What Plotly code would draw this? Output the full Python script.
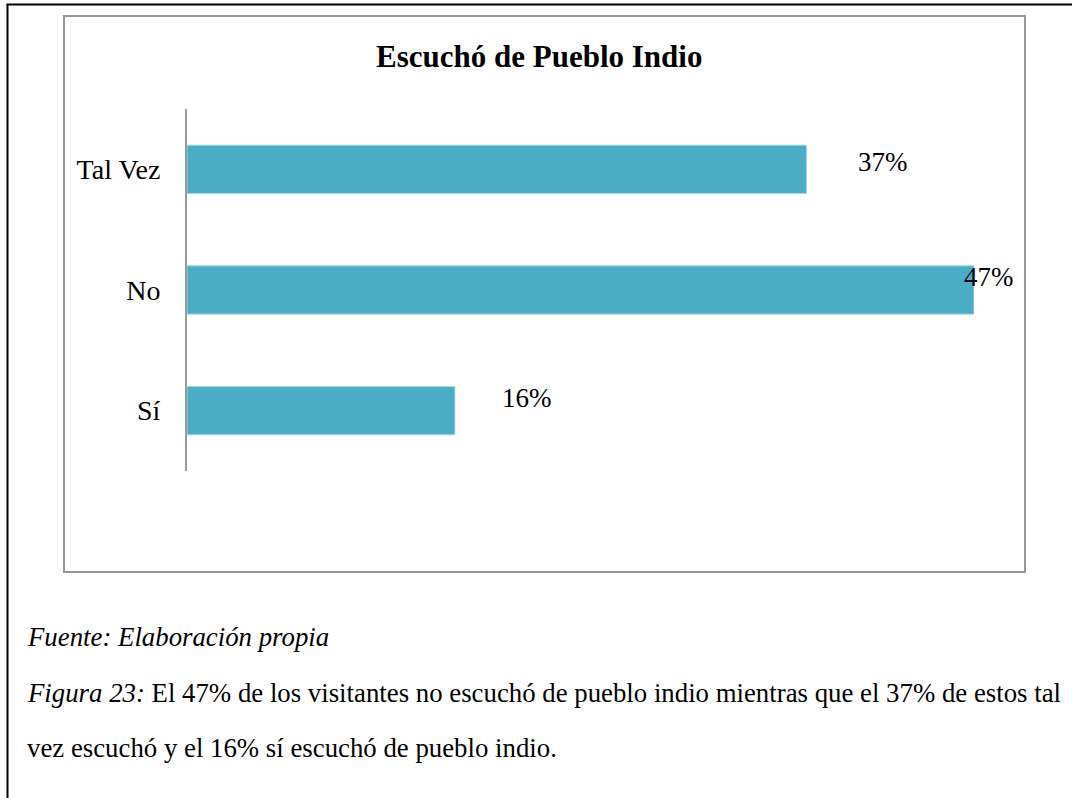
import plotly.graph_objects as go

# ---- data ----
categories = ["Sí", "No", "Tal Vez"]
values = [16, 47, 37]
value_labels = ["16%", "47%", "37%"]
title_text = "<b>Escuchó de Pueblo Indio</b>"
source_text = "<i>Fuente: Elaboración propia</i>"
caption_line1 = "<i>Figura 23:</i> El 47% de los visitantes no escuchó de pueblo indio mientras que el 37% de estos tal"
caption_line2 = "vez escuchó y el 16% sí escuchó de pueblo indio."

# ---- style ----
W, H = 1072, 798
FONT = "Liberation Serif, Times New Roman, serif"
BAR_COLOR = "#4BACC6"
label_offsets = {"Sí": (45, 13), "No": (-12, 13), "Tal Vez": (49, 7)}  # (xshift, yshift) px


def px_x(x):
    return x / W


def px_y(y):
    return 1 - y / H


fig = go.Figure()
fig.add_trace(go.Bar(
    y=categories,
    x=values,
    orientation="h",
    width=0.4,
    marker=dict(color=BAR_COLOR, line=dict(color="#a9d7e4", width=1)),
    hoverinfo="skip",
))

annotations = []
for cat, val, lab in zip(categories, values, value_labels):
    xs, ys = label_offsets[cat]
    annotations.append(dict(
        x=val, y=cat, xref="x", yref="y", text=lab, showarrow=False,
        xanchor="left", yanchor="middle", xshift=xs, yshift=ys,
        font=dict(family=FONT, size=27, color="#000000"),
    ))

annotations.append(dict(
    x=px_x(539), y=px_y(57), xref="paper", yref="paper", text=title_text,
    showarrow=False, xanchor="center", yanchor="middle",
    font=dict(family=FONT, size=31, color="#000000"),
))

cap_font = dict(family=FONT, size=26.8, color="#000000")
for txt, yy in [(source_text, 637), (caption_line1, 693), (caption_line2, 748)]:
    annotations.append(dict(
        x=px_x(25), y=px_y(yy), xref="paper", yref="paper", text=txt,
        showarrow=False, xanchor="left", yanchor="middle", font=cap_font,
    ))

shapes = [
    # inner chart frame
    dict(type="rect", xref="paper", yref="paper",
         x0=px_x(64), x1=px_x(1025), y0=px_y(572), y1=px_y(16),
         line=dict(color="#999999", width=2), fillcolor="rgba(0,0,0,0)"),
    # outer page border (left and top)
    dict(type="line", xref="paper", yref="paper",
         x0=px_x(7.5), x1=px_x(7.5), y0=px_y(4.5), y1=px_y(800),
         line=dict(color="#000000", width=2)),
    dict(type="line", xref="paper", yref="paper",
         x0=px_x(6.5), x1=px_x(1072), y0=px_y(4.5), y1=px_y(4.5),
         line=dict(color="#000000", width=2)),
]

fig.update_layout(
    width=W, height=H,
    margin=dict(l=0, r=0, t=0, b=0),
    paper_bgcolor="white", plot_bgcolor="white",
    showlegend=False,
    annotations=annotations,
    shapes=shapes,
    xaxis=dict(domain=[px_x(187), px_x(974)], range=[0, 47],
               showgrid=False, zeroline=False, showline=False,
               showticklabels=False, ticks="", fixedrange=True),
    yaxis=dict(domain=[px_y(471), px_y(109)], range=[-0.5, 2.5],
               categoryorder="array", categoryarray=categories,
               showgrid=False, zeroline=False,
               showline=True, linecolor="#999999", linewidth=2,
               ticks="", ticklabelstandoff=19,
               tickfont=dict(family=FONT, size=28, color="#000000"),
               fixedrange=True),
)

fig.write_html(
    "out.html",
    config={"displayModeBar": False, "staticPlot": True},
    post_script="document.body.style.margin='0';document.body.style.overflow='hidden';",
)
